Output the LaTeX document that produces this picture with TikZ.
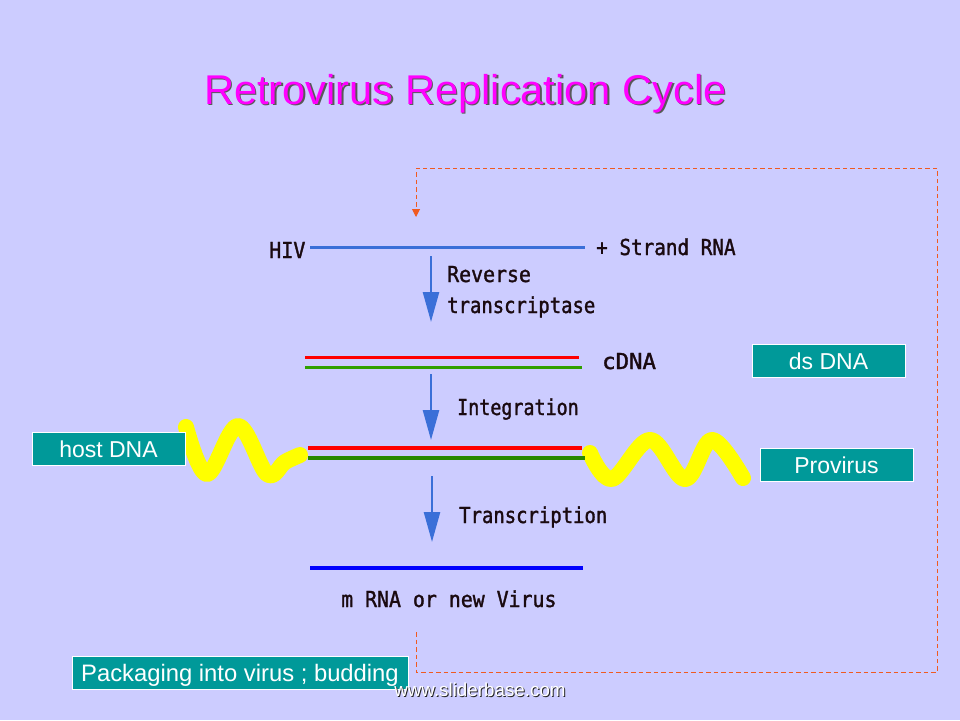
\documentclass[tikz,border=0pt]{standalone}
\usepackage{fontspec}
\setmainfont{Liberation Sans}
\newfontfamily\bitfont[FakeBold=1.4,FakeStretch=0.86]{DejaVu Sans Mono}
\usetikzlibrary{arrows.meta}
\definecolor{slidebg}{HTML}{CCCCFF}
\definecolor{tealbox}{HTML}{009999}
\definecolor{rnablue}{HTML}{3A6FD8}
\definecolor{flowred}{HTML}{F05A20}
\definecolor{bitink}{HTML}{1A0A10}
\definecolor{titlepink}{HTML}{FF00FF}
\definecolor{dnagreen}{HTML}{2FA000}
\definecolor{purered}{HTML}{FF0000}
\definecolor{wavey}{HTML}{FFFF00}
\tikzset{
  strand/.style={line width=3.5pt},
  wave/.style={wavey, line width=16pt, line cap=round, line join=round},
  downarrow/.style={rnablue, line width=2.5pt, -{Triangle[length=30pt,width=16pt]}},
  bittext/.style={anchor=base west, inner sep=0pt, text=bitink, font=\bitfont\fontsize{22}{24}\selectfont},
  tealnode/.style={draw=white, line width=1pt, fill=tealbox, text=white, inner sep=0pt, text height=17pt, text depth=0pt, font=\fontsize{23}{24}\selectfont},
  flowline/.style={flowred, line width=1pt, dash pattern=on 4.5pt off 3pt}
}
\begin{document}
\begin{tikzpicture}[x=1pt,y=-1pt]
      \fill[slidebg] (0,0) rectangle (960,720);
      \useasboundingbox (0,0) rectangle (960,720);
      % title
      \node[anchor=base west, inner sep=0pt, text=black!65, font=\fontsize{41.6}{44}\selectfont] (titleshadow) at (205.5,105.5) {Retrovirus Replication Cycle};
      \node[anchor=base west, inner sep=0pt, text=titlepink, font=\fontsize{41.6}{44}\selectfont] (title) at (204,104) {Retrovirus Replication Cycle};
      % host dna
      \draw[wave] plot[smooth, tension=0.6] coordinates {(186,427) (207,474) (238,426) (267,474) (285,462) (300,455)};
      \draw[wave] plot[smooth, tension=0.6] coordinates {(590,453) (612,479) (650,440) (685,479) (712,440) (743,478)};
      \draw
        (310,247.5) coordinate (hivleft)
        (585,247.5) coordinate (hivright)
        (305,357.5) coordinate (credleft)
        (579,357.5) coordinate (credright)
        (305,367.5) coordinate (cgreenleft)
        (582,367.5) coordinate (cgreenright)
        (308,448) coordinate (predleft)
        (582,448) coordinate (predright)
        (308,458) coordinate (pgreenleft)
        (585,458) coordinate (pgreenright)
        (310,568) coordinate (mrnaleft)
        (583,568) coordinate (mrnaright)
        (431,256) coordinate (rttop)
        (431,322) coordinate (rtend)
        (431,374) coordinate (inttop)
        (431,440) coordinate (intend)
        (432,476) coordinate (trtop)
        (432,542) coordinate (trend)
        (416,632) coordinate (flowstart)
        (416,672) coordinate (flowa)
        (937,672) coordinate (flowb)
        (937,168) coordinate (flowc)
        (416,168) coordinate (flowd)
        (416,217) coordinate (flowend);
      \begin{scope}[strand]
        \draw[rnablue] (hivleft) to (hivright);
        \draw[purered] (credleft) to (credright);
        \draw[dnagreen] (cgreenleft) to (cgreenright);
        \draw[purered] (predleft) to (predright);
        \draw[dnagreen!85!black] (pgreenleft) to (pgreenright);
        \draw[blue, line width=4pt] (mrnaleft) to (mrnaright);
      \end{scope}
      \draw[downarrow] (rttop) to (rtend);
      \draw[downarrow] (inttop) to (intend);
      \draw[downarrow] (trtop) to (trend);
      \draw[flowline, -{Triangle[length=8pt,width=8pt]}] (flowstart) -- (flowa) -- (flowb) -- (flowc) -- (flowd) -- (flowend);
      % bitmap labels
      \node[bittext] (hiv) at (269,258) {\scalebox{1.06}[1]{HIV}};
      \node[bittext] (plusstrand) at (596,255) {\scalebox{1.02}[1]{+ Strand RNA}};
      \node[bittext] (reverse) at (447,282) {\scalebox{1.05}[1]{Reverse}};
      \node[bittext] (transcriptase) at (447,313) {transcriptase};
      \node[bittext] (cdna) at (602,369) {\scalebox{1.18}[1]{cDNA}};
      \node[bittext] (integration) at (457,415) {\scalebox{0.97}[1]{Integration}};
      \node[bittext] (transcription) at (459,523) {Transcription};
      \node[bittext] (mrna) at (341,607) {\scalebox{1.05}[1]{m RNA or new Virus}};
      % boxes
      \node[tealnode, minimum width=153pt, minimum height=33pt] (dsdna) at (828.5,360.5) {ds DNA};
      \node[tealnode, minimum width=153pt, minimum height=33pt] (hostdna) at (108.5,448.5) {host DNA};
      \node[tealnode, minimum width=153pt, minimum height=33pt] (provirus) at (836.5,464.5) {Provirus};
      \node[tealnode, minimum width=336pt, minimum height=33pt, font=\fontsize{23.8}{24}\selectfont] (packaging) at (240,672.5) {Packaging into virus ; budding};
      % watermark
      \node[anchor=center, inner sep=0pt, text=black!85, font=\fontsize{18.8}{20}\selectfont] (marksh) at (481,691) {www.sliderbase.com};
      \node[anchor=center, inner sep=0pt, text=white, font=\fontsize{18.8}{20}\selectfont] (mark) at (480,690) {www.sliderbase.com};
    \end{tikzpicture}
\end{document}
